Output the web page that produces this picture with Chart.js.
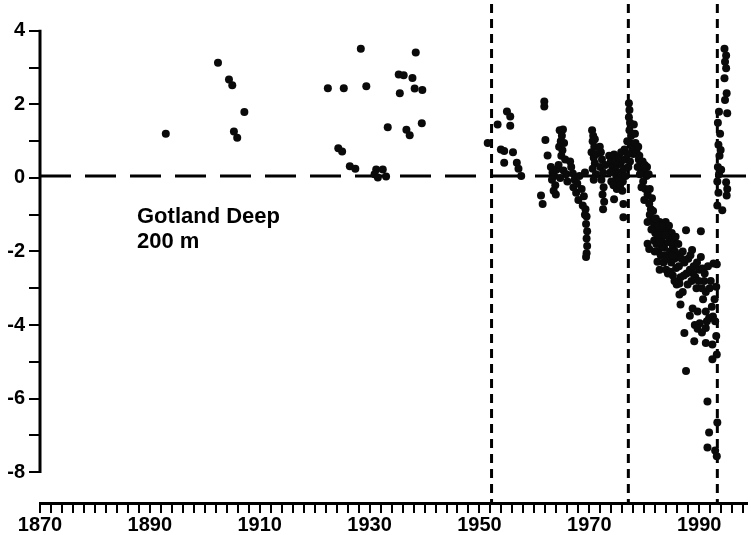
<!DOCTYPE html>
<html lang="en">
<head>
    <meta charset="UTF-8">
    <title>Gotland Deep 200 m</title>
    <script src="https://cdn.jsdelivr.net/npm/chart.js"></script>
    <style>
        body { margin: 0; background: #fff; }
        canvas { display: block; }
    </style>
</head>
<body>
    <canvas id="chart" width="751" height="535"></canvas>

    <script>
        const earlyPoints = [
            [1892.9, 1.20], [1902.4, 3.13], [1904.4, 2.68], [1905.0, 2.52], [1907.2, 1.79],
            [1905.3, 1.26], [1905.9, 1.09], [1922.4, 2.44], [1925.3, 2.44], [1928.4, 3.51],
            [1929.4, 2.49], [1924.3, 0.81], [1925.0, 0.72], [1926.4, 0.32], [1927.4, 0.25],
            [1931.2, 0.23], [1932.4, 0.23], [1930.9, 0.10], [1931.5, 0.01], [1933.0, 0.04],
            [1933.3, 1.38], [1935.3, 2.81], [1936.2, 2.79], [1937.8, 2.72], [1935.5, 2.30],
            [1938.4, 3.41], [1938.2, 2.43], [1939.6, 2.39], [1936.7, 1.31], [1937.3, 1.16],
            [1939.5, 1.49]
        ];

        const midPoints = [
            [1953.3, 1.45], [1955.0, 1.81], [1955.6, 1.67], [1955.6, 1.42], [1953.9, 0.77],
            [1954.5, 0.73], [1956.1, 0.70], [1954.5, 0.41], [1956.8, 0.41], [1957.1, 0.25],
            [1957.6, 0.05], [1951.5, 0.95],
            [1961.8, 2.08], [1961.8, 1.94], [1962.0, 1.03], [1962.4, 0.61], [1961.2, -0.48],
            [1961.5, -0.71],
            [1963.0, 0.30], [1963.3, 0.15], [1963.6, 0.05], [1963.2, -0.05], [1963.8, -0.20],
            [1963.5, -0.35], [1964.0, 0.22], [1963.9, -0.45],
            [1964.6, 1.30], [1965.2, 1.32], [1965.0, 1.15], [1964.8, 1.00], [1965.4, 0.95],
            [1964.5, 0.85], [1965.1, 0.75], [1964.9, 0.60], [1965.6, 0.50], [1964.4, 0.35],
            [1965.3, 0.20], [1965.8, 0.10], [1964.7, 0.00], [1966.0, -0.10],
            [1966.7, 0.30], [1967.0, 0.12], [1967.3, -0.05], [1967.1, -0.25], [1967.6, -0.40],
            [1968.0, -0.60], [1967.8, -0.15], [1968.2, 0.05], [1966.5, 0.45],
            [1969.3, -0.85], [1969.5, -1.05], [1969.4, -1.25], [1969.6, -1.45], [1969.5, -1.65],
            [1969.6, -1.85], [1969.5, -2.05], [1969.4, -2.15], [1969.2, -1.00], [1968.8, -0.75],
            [1969.0, -0.50], [1968.6, -0.30], [1969.2, 0.15],
            [1970.5, 1.30], [1970.7, 1.15], [1970.6, 1.00], [1970.9, 0.85], [1970.4, 0.70],
            [1970.8, 0.55], [1971.0, 0.40], [1970.6, 0.25], [1971.2, 0.10], [1970.8, -0.05],
            [1971.3, 0.65], [1971.0, 1.05],
            [1971.9, 0.85], [1972.1, 0.70], [1972.3, 0.50], [1972.0, 0.30], [1972.5, 0.15],
            [1972.2, -0.05], [1972.6, -0.25], [1972.4, -0.45], [1972.7, -0.65], [1972.5, -0.85],
            [1972.9, 0.35],
            [1973.6, 0.60], [1973.9, 0.45], [1974.2, 0.30], [1974.5, 0.64], [1974.7, 0.20],
            [1974.9, 0.05], [1975.1, 0.35], [1975.3, -0.05], [1975.5, 0.15], [1975.7, 0.40],
            [1975.9, 0.10], [1976.1, -0.10], [1976.3, 0.25], [1976.4, 0.77], [1976.6, 0.05],
            [1974.0, -0.10], [1974.4, -0.20], [1975.0, -0.30], [1975.6, -0.20], [1976.0, -0.35],
            [1974.5, -0.58], [1976.2, -0.71], [1976.2, -1.07], [1973.8, 0.15], [1974.8, 0.45],
            [1975.4, 0.55], [1976.5, 0.50], [1975.8, 0.70]
        ];

        const latePoints = [
            [1977.2, 2.03], [1977.3, 1.85], [1977.2, 1.65], [1977.4, 1.50], [1977.3, 1.30],
            [1977.6, 1.15], [1977.5, 0.95], [1977.8, 0.80], [1978.0, 0.65], [1977.4, 0.45],
            [1977.1, 0.30], [1977.0, 0.65], [1976.9, 1.00], [1978.3, 1.20],
            [1978.6, 0.70], [1979.0, 0.50], [1979.3, 0.35], [1979.6, 0.20], [1980.0, 0.15],
            [1980.4, 0.05], [1979.2, 0.10], [1979.8, -0.10], [1980.2, -0.30], [1980.6, -0.45],
            [1980.0, -0.60], [1980.9, -0.70], [1981.2, -0.85], [1978.8, 0.30], [1979.5, -0.25],
            [1980.5, 0.30],
            [1978.1, 1.45], [1978.4, 0.95], [1978.9, 0.85], [1979.1, 0.60], [1979.7, 0.45],
            [1980.1, 0.35], [1980.8, 0.10], [1981.0, -0.30], [1981.4, -0.55], [1981.6, -0.90],
            [1981.0, -1.00], [1981.5, -1.15], [1981.8, -1.30], [1982.0, -1.50], [1982.3, -1.40],
            [1982.6, -1.60], [1981.3, -1.40], [1982.2, -1.80], [1982.8, -1.20], [1983.0, -1.40],
            [1983.2, -1.75], [1982.5, -2.00], [1981.8, -1.70], [1981.9, -2.00], [1980.6, -1.79],
            [1980.9, -1.93], [1980.6, -1.20],
            [1981.8, -1.20], [1982.4, -2.28], [1982.8, -2.50], [1983.9, -1.20], [1983.3, -1.60],
            [1983.6, -1.90], [1983.9, -2.10], [1984.2, -1.45], [1984.4, -1.75], [1984.7, -2.00],
            [1984.9, -2.30], [1984.0, -2.50], [1985.2, -1.90], [1985.5, -2.20], [1985.8, -2.45],
            [1985.2, -2.65], [1986.0, -2.10], [1986.3, -2.40], [1986.6, -2.70], [1985.9, -2.90],
            [1986.4, -2.87], [1987.0, -2.00], [1987.3, -2.30], [1987.7, -2.60], [1987.6, -1.42],
            [1988.0, -2.20], [1988.3, -2.50], [1988.7, -1.96], [1988.6, -2.80], [1989.0, -2.40],
            [1989.3, -2.70], [1989.5, -3.00], [1990.0, -2.50], [1990.3, -1.45], [1990.3, -2.15],
            [1990.6, -2.46], [1990.9, -2.80], [1991.2, -3.10], [1991.9, -3.00], [1992.6, -2.33],
            [1992.8, -3.30], [1986.4, -3.17], [1986.6, -3.44], [1988.8, -3.55], [1989.7, -3.63],
            [1991.2, -3.63], [1991.8, -3.81], [1992.5, -3.77], [1989.2, -4.00], [1990.1, -3.95],
            [1991.2, -4.08], [1987.3, -4.22], [1989.1, -4.44], [1991.2, -4.49], [1992.4, -4.53],
            [1993.2, -4.80], [1992.4, -4.93], [1987.6, -5.25], [1991.5, -6.08], [1993.3, -6.65],
            [1991.8, -6.92], [1991.5, -7.33], [1992.9, -7.41], [1993.2, -7.57],
            [1982.5, -1.30], [1982.9, -1.55], [1983.1, -1.85], [1983.5, -2.30], [1984.3, -2.60],
            [1984.6, -1.60], [1985.0, -1.50], [1985.4, -1.75], [1983.0, -2.10], [1982.7, -1.75],
            [1984.1, -2.20], [1985.6, -2.00],
            [1982.1, -1.10], [1982.4, -1.55], [1983.4, -1.30], [1983.8, -1.55], [1984.5, -1.30],
            [1985.1, -2.10], [1985.7, -1.60], [1986.2, -1.80], [1986.8, -2.20], [1987.2, -2.65],
            [1987.9, -2.90], [1988.4, -2.10], [1988.9, -2.60], [1989.6, -2.30], [1989.9, -2.80],
            [1990.5, -3.00], [1991.0, -2.60], [1991.6, -2.40], [1992.1, -2.80], [1992.3, -3.50],
            [1990.7, -3.30], [1991.4, -3.90], [1992.9, -3.90], [1993.1, -4.30], [1990.5, -4.20],
            [1989.7, -4.10], [1988.3, -3.75], [1987.0, -3.10], [1985.5, -2.80], [1984.8, -2.55],
            [1993.2, -2.35], [1993.1, -2.96]
        ];

        const recentPoints = [
            [1994.6, 3.51], [1994.9, 3.33], [1994.7, 3.16], [1994.9, 2.98], [1994.6, 2.71],
            [1995.0, 2.30], [1994.7, 2.12], [1995.1, 1.76], [1993.6, 1.80], [1993.4, 1.50],
            [1993.8, 1.20], [1993.5, 0.90], [1993.7, 0.60], [1993.4, 0.30], [1993.6, 0.10],
            [1993.3, -0.10], [1993.5, -0.40], [1993.3, -0.75], [1994.9, -0.12], [1995.1, -0.30],
            [1995.0, -0.48], [1994.2, -0.88], [1993.9, 0.76], [1994.0, 0.22]
        ];

        // Reference lines
        const zeroLevel = 0.05;
        const regimeYears = [1952.2, 1977.1, 1993.3];

        // Axis ranges and labels
        const xMin = 1870, xMax = 1998.7;
        const yMin = -8.84, yMax = 4.73;
        const yAxisFrom = -8, yAxisTo = 4;
        const labelYears = [1870, 1890, 1910, 1930, 1950, 1970, 1990];
        const annotation = ['Gotland Deep', '200 m'];

        const toXY = arr => arr.map(p => ({ x: p[0], y: p[1] }));
        const allPoints = [].concat(earlyPoints, midPoints, latePoints, recentPoints);

        const datasets = [{
            data: toXY(allPoints),
            backgroundColor: '#0a0a0a',
            borderWidth: 0,
            pointRadius: 4,
            order: 0
        }, {
            // horizontal long dashes
            data: [{ x: xMin, y: zeroLevel }, { x: xMax, y: zeroLevel }],
            showLine: true, pointRadius: 0,
            borderColor: '#000', borderWidth: 3, borderDash: [31, 14],
            order: 1
        }];
        // vertical short dashes
        regimeYears.forEach(yr => {
            datasets.push({
                data: [{ x: yr, y: yMax }, { x: yr, y: yMin }],
                showLine: true, pointRadius: 0,
                borderColor: '#000', borderWidth: 3, borderDash: [9, 6],
                order: 1
            });
        });

        const font = { family: "'Liberation Sans', Arial, sans-serif", size: 20, weight: 'bold' };

        // y axis line only from -8 to 4, plus the label text
        const extras = {
            id: 'extras',
            afterDraw(chart) {
                const ctx = chart.ctx, y = chart.scales.y, left = chart.chartArea.left;
                ctx.save();
                ctx.strokeStyle = '#000';
                ctx.lineWidth = 3;
                ctx.beginPath();
                ctx.moveTo(left, y.getPixelForValue(yAxisTo) - 1);
                ctx.lineTo(left, y.getPixelForValue(yAxisFrom) + 1);
                ctx.stroke();

                ctx.fillStyle = '#000';
                ctx.font = "bold 22px 'Liberation Sans', Arial, sans-serif";
                ctx.textBaseline = 'alphabetic';
                ctx.fillText(annotation[0], 137, 223);
                ctx.fillText(annotation[1], 137, 248);
                ctx.restore();
            }
        };

        new Chart(document.getElementById('chart'), {
            type: 'scatter',
            data: { datasets: datasets },
            options: {
                responsive: false,
                animation: false,
                layout: { padding: { left: 0, right: 3, top: 0, bottom: 0 } },
                plugins: { legend: { display: false }, tooltip: { enabled: false } },
                scales: {
                    x: {
                        type: 'linear', min: xMin, max: xMax,
                        border: { display: true, color: '#000', width: 3 },
                        grid: { drawOnChartArea: false, drawTicks: true, tickLength: 10, color: '#000', lineWidth: 2 },
                        ticks: {
                            stepSize: 2, includeBounds: false, autoSkip: false, maxRotation: 0,
                            padding: 0, color: '#000', font: font,
                            callback: v => labelYears.includes(v) ? String(v) : ''
                        },
                        afterFit: s => { s.height = 32; s.paddingLeft = 0; s.paddingRight = 0; }
                    },
                    y: {
                        min: yMin, max: yMax,
                        border: { display: false },
                        grid: { drawOnChartArea: false, drawTicks: true, tickLength: 11, color: '#000', lineWidth: 2 },
                        ticks: {
                            stepSize: 1, includeBounds: false, padding: 4, color: '#000', font: font,
                            callback: v => (v % 2 === 0 ? String(v) : '')
                        },
                        afterFit: s => { s.width = 40; s.paddingTop = 0; s.paddingBottom = 0; }
                    }
                }
            },
            plugins: [extras]
        });
    </script>
</body>
</html>
